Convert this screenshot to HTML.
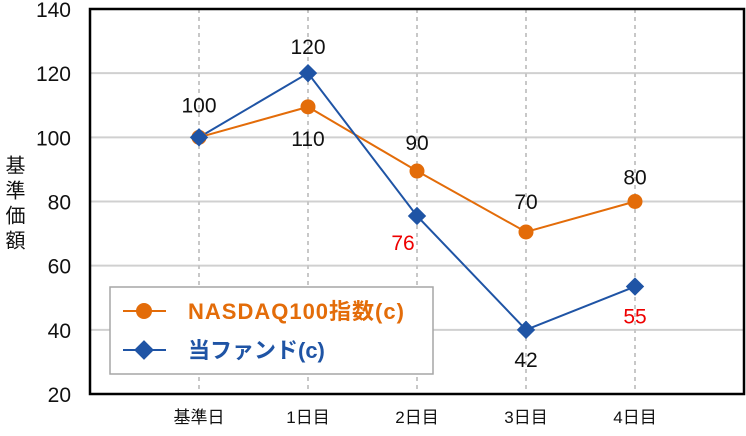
<!DOCTYPE html>
<html><head><meta charset="utf-8"><style>
body{margin:0;background:#fff}
svg text{font-family:"Liberation Sans","Noto Sans CJK JP",sans-serif}
</style></head><body>
<svg width="746" height="431">
<g id="grid"></g>
<g id="axes"></g>
<g id="series"></g>
<g id="legend">
<rect x="110" y="287" width="323" height="87" fill="#fff" stroke="#a6a6a6" stroke-width="1.5"/>
<g>
<line x1="123" y1="311" x2="166" y2="311" stroke="#e36c09" stroke-width="2"/>
<circle cx="144" cy="311" r="8" fill="#e36c09"/>
<text x="188" y="319" font-size="22" font-weight="bold" fill="#e36c09" letter-spacing="1">NASDAQ100指数(c)</text></g>
<g>
<line x1="123" y1="350" x2="166" y2="350" stroke="#1f54a5" stroke-width="2"/>
<rect x="137" y="343" width="14" height="14" fill="#1f54a5" transform="rotate(45 144 350)"/>
<text x="188" y="358" font-size="22" font-weight="bold" fill="#1f54a5">当ファンド(c)</text></g>
</g>
</svg>
<script>
const categories=["基準日","1日目","2日目","3日目","4日目"];
const nasdaq=[100,109.5,89.5,70.5,80];
const fund=[100,120,75.5,40,53.5];
const nasdaqLabels=["100","110","90","70","80"];
const fundLabels=["","120","76","42","55"];
const yTicks=[20,40,60,80,100,120,140];
const L=90,R=744,T=9,B=394,ymin=20,ymax=140,slots=6;
const ns="http://www.w3.org/2000/svg";
const X=i=>L+(i+1)*(R-L)/slots;
const Y=v=>B-(v-ymin)/(ymax-ymin)*(B-T);
function mk(t,a,p){const e=document.createElementNS(ns,t);for(const k in a)e.setAttribute(k,a[k]);p.appendChild(e);return e;}
const g=document.getElementById('grid'),ax=document.getElementById('axes'),s=document.getElementById('series');
yTicks.forEach(v=>{const l=mk('line',{x1:L,x2:R,y1:Y(v),y2:Y(v),stroke:'#d0d0d0','stroke-width':2},g);


const t=mk('text',{x:71,y:Y(v)+8,'font-size':21,'text-anchor':'end',fill:'#111'},ax);t.textContent=v;

});
categories.forEach((c,i)=>{const l=mk('line',{x1:X(i),x2:X(i),y1:T,y2:B,stroke:'#c8c8c8','stroke-width':2,'stroke-dasharray':'4 4'},g);


const t=mk('text',{x:X(i),y:423,'font-size':17,'text-anchor':'middle',fill:'#111'},ax);t.textContent=c;

});
const fr=mk('rect',{x:L,y:T,width:R-L,height:B-T,fill:'none',stroke:'#000','stroke-width':2.5},ax);


const yt=mk('text',{x:13,y:155,'font-size':20,fill:'#111','writing-mode':'tb','letter-spacing':5},ax);yt.textContent='基準価額';


function line(vals,col,name){const p=mk('polyline',{points:vals.map((v,i)=>X(i)+','+Y(v)).join(' '),fill:'none',stroke:col,'stroke-width':2},s);

}
line(nasdaq,'#e36c09','nasdaq');line(fund,'#1f54a5','fund');
nasdaq.forEach((v,i)=>{const c=mk('circle',{cx:X(i),cy:Y(v),r:7.5,fill:'#e36c09'},s);

});
fund.forEach((v,i)=>{const r=mk('rect',{x:X(i)-6.5,y:Y(v)-6.5,width:13,height:13,fill:'#1f54a5',transform:`rotate(45 ${X(i)} ${Y(v)})`},s);

});
const nOff=[-32,32,-28,-30,-24];
nasdaqLabels.forEach((t,i)=>{const e=mk('text',{x:X(i),y:Y(nasdaq[i])+nOff[i]+7,'font-size':21,'text-anchor':'middle',fill:'#111'},s);e.textContent=t;

});
const fOff=[0,-26,27,30,30],fCol=['#111','#111','#e00','#111','#e00'];
fundLabels.forEach((t,i)=>{if(!t)return;const e=mk('text',{x:X(i)+(i==2?-14:0),y:Y(fund[i])+fOff[i]+7,'font-size':21,'text-anchor':'middle',fill:fCol[i]},s);e.textContent=t;

});
</script>
</body></html>
